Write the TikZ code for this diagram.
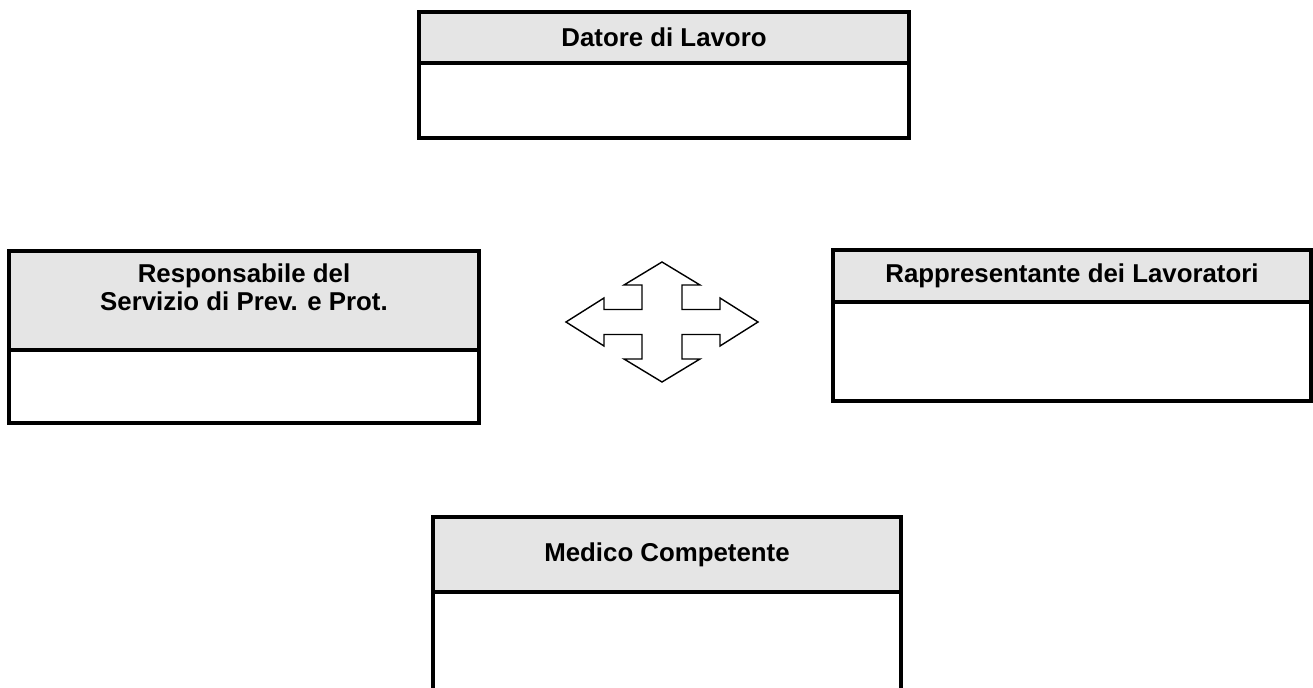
\documentclass[tikz,border=0pt]{standalone}
\usepackage{fontspec}
\setmainfont{Liberation Sans}
\usetikzlibrary{positioning}
\begin{document}
\begin{tikzpicture}[x=0.02cm,y=-0.02cm,
  head/.style={draw,line width=2.2pt,fill=gray!20,outer sep=0pt,inner sep=0pt,align=center,
    font=\fontsize{14.7}{16}\selectfont\bfseries},
  titolo/.style={inner sep=0pt,align=center,font=\fontsize{14.7}{16}\selectfont\bfseries},
  vuoto/.style={draw,line width=2.2pt,outer sep=0pt,inner sep=0pt}]
\useasboundingbox (0,0) rectangle (1313,688);
\clip (0,0) rectangle (1313,688);
% datore di lavoro
\node[head, minimum width=9.8cm, minimum height=1.02cm] (datore) at (664,37.5) {Datore di Lavoro};
\node[vuoto, minimum width=9.8cm, minimum height=1.5cm, below=0pt of datore] (datoreV) {};
% RSPP
\node[head, minimum width=9.4cm, minimum height=1.98cm] (rspp) at (244,300.5) {};
\node[titolo] (rsppT) at (244,287) {Responsabile del\\Servizio di Prev. e Prot.};
\node[vuoto, minimum width=9.4cm, minimum height=1.46cm, below=0pt of rspp] (rsppV) {};
% RLS
\node[head, minimum width=9.56cm, minimum height=1.04cm] (rls) at (1072,276) {Rappresentante dei Lavoratori};
\node[vuoto, minimum width=9.56cm, minimum height=1.98cm, below=0pt of rls] (rlsV) {};
% medico
\node[head, minimum width=9.36cm, minimum height=1.5cm] (medico) at (667,554.5) {Medico Competente};
\node[vuoto, minimum width=9.36cm, minimum height=2.56cm, below=0pt of medico] (medicoV) {};
% freccia a quattro punte
\draw[line width=0.8pt, line join=miter, shift={(662,322)}]
  (0,-60) -- (38,-37) -- (20,-37) -- (20,-12.5) -- (58,-12.5) -- (58,-24) -- (96,0)
  -- (58,24) -- (58,12.5) -- (20,12.5) -- (20,37) -- (38,37) -- (0,60)
  -- (-38,37) -- (-20,37) -- (-20,12.5) -- (-58,12.5) -- (-58,24) -- (-96,0)
  -- (-58,-24) -- (-58,-12.5) -- (-20,-12.5) -- (-20,-37) -- (-38,-37) -- cycle;
\end{tikzpicture}
\end{document}
